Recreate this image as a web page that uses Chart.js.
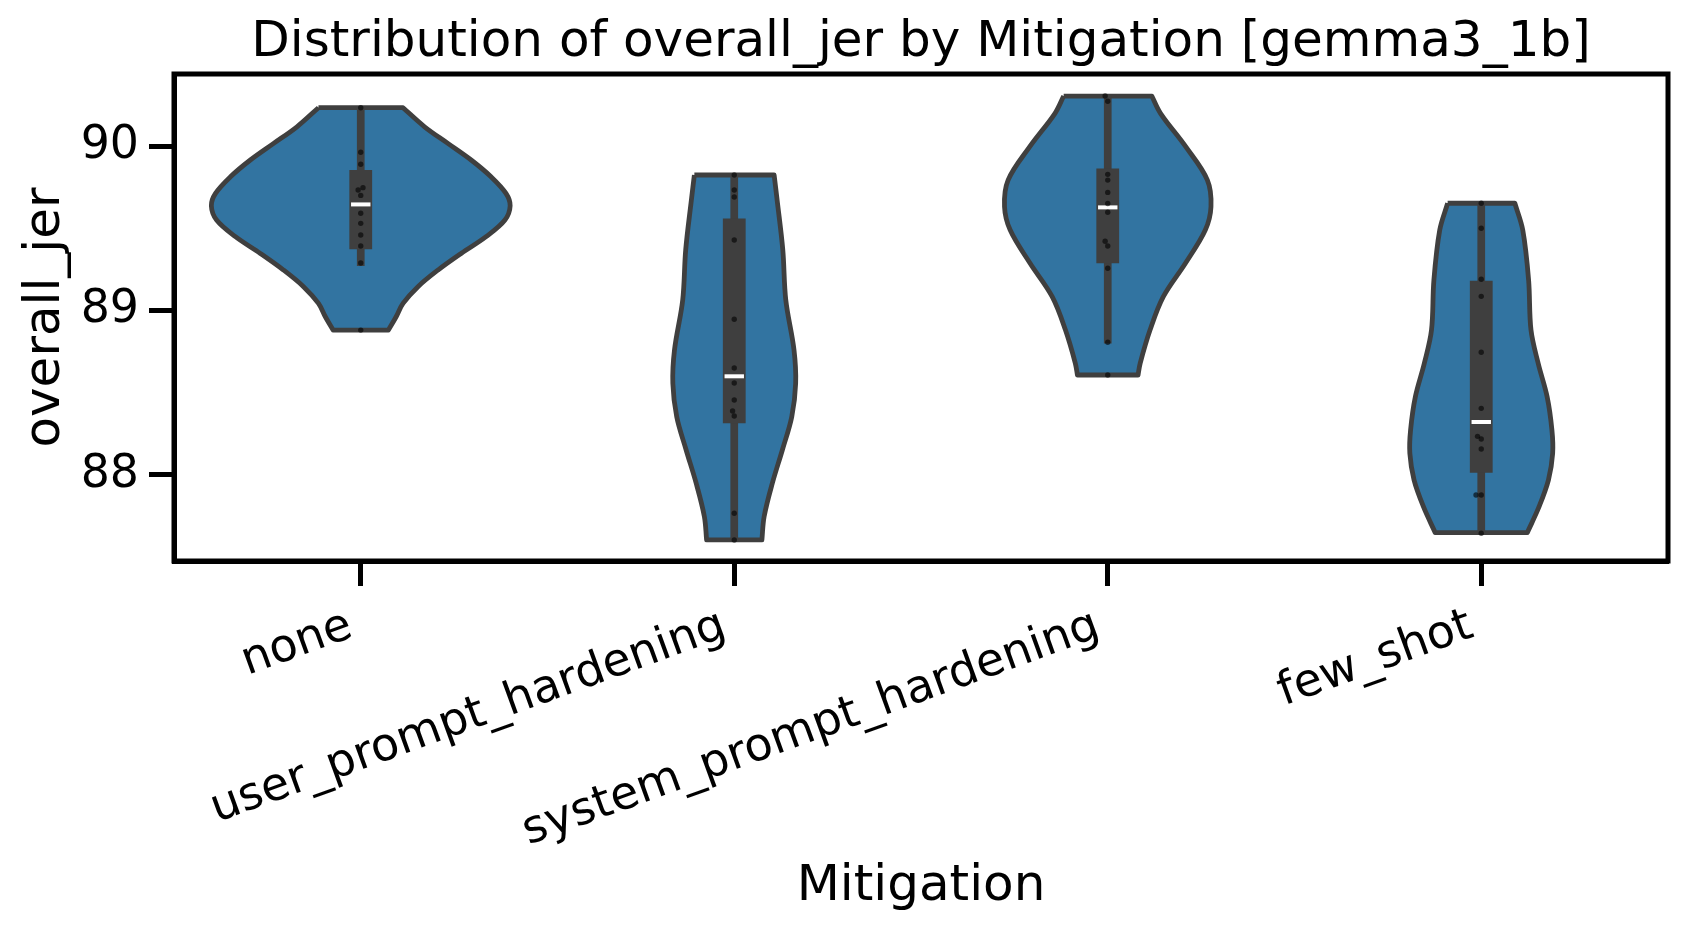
<!DOCTYPE html>
<html>
<head>
<meta charset="utf-8">
<script src="https://cdn.jsdelivr.net/npm/chart.js@4.4.1/dist/chart.umd.min.js"></script>
<style>
  html, body { margin: 0; padding: 0; background: #ffffff; }
  #wrap { width: 1687px; height: 928px; }
</style>
</head>
<body>
<div id="wrap"><canvas id="c" width="1687" height="928"></canvas></div>
<script>
// ---------------- DATA ----------------
const categories = ['none', 'user_prompt_hardening', 'system_prompt_hardening', 'few_shot'];
const yTicks = [88, 89, 90];

// observed values (strip points)
const pointsNone   = [90.233, 89.962, 89.889, 89.747, 89.733, 89.700, 89.591, 89.530, 89.459, 89.392, 89.289, 88.881];
const pointsUser   = [89.824, 89.733, 89.690, 89.429, 88.947, 88.650, 88.559, 88.456, 88.389, 88.359, 87.767, 87.605];
const pointsSystem = [90.304, 90.272, 89.828, 89.793, 89.718, 89.651, 89.597, 89.421, 89.392, 89.257, 88.807, 88.608];
const pointsFew    = [89.652, 89.500, 89.190, 89.086, 88.746, 88.405, 88.235, 88.219, 88.158, 87.878, 87.878, 87.646];
// strip jitter (category units)
const jitterNone   = [0, 0, 0, 0.006, -0.007, 0, 0, 0, 0, 0, 0, 0];
const jitterUser   = [0, 0, 0, 0, 0, 0, 0, 0, -0.0045, 0, 0, 0];
const jitterSystem = [-0.007, 0, 0, 0, 0, 0, 0, -0.007, 0, 0, 0, 0];
const jitterFew    = [0, 0, 0, 0, 0, 0, -0.01, 0, 0, -0.014, 0, 0];

// violin density outlines: levels (value) and relative density (1 = widest)
const levelsNone    = [90.233, 90.117, 90.016, 89.915, 89.813, 89.712, 89.637, 89.550, 89.449, 89.347, 89.246, 89.145, 89.043, 88.962, 88.881];
const densityNone   = [0.283, 0.427, 0.583, 0.739, 0.872, 0.972, 1.000, 0.965, 0.839, 0.672, 0.517, 0.383, 0.283, 0.237, 0.185];
const levelsUser    = [89.824, 89.672, 89.368, 89.064, 88.760, 88.557, 88.354, 88.152, 87.950, 87.747, 87.605];
const densityUser   = [0.267, 0.287, 0.325, 0.345, 0.400, 0.411, 0.385, 0.322, 0.255, 0.200, 0.185];
const levelsSystem  = [90.304, 90.199, 89.996, 89.793, 89.631, 89.489, 89.287, 89.084, 88.881, 88.679, 88.608];
const densitySystem = [0.295, 0.353, 0.522, 0.667, 0.691, 0.653, 0.520, 0.372, 0.283, 0.217, 0.203];
const levelsFew     = [89.652, 89.489, 89.185, 88.881, 88.679, 88.476, 88.274, 88.132, 87.970, 87.807, 87.649];
const densityFew    = [0.225, 0.278, 0.317, 0.333, 0.381, 0.441, 0.473, 0.478, 0.450, 0.387, 0.308];

// inner box statistics
const q1Values      = [89.372, 88.314, 89.287, 88.014];
const medianValues  = [89.645, 88.600, 89.627, 88.322];
const q3Values      = [89.854, 89.560, 89.864, 89.181];
const whiskerLow    = [89.270, 87.605, 88.800, 87.646];
const whiskerHigh   = [90.233, 89.824, 90.304, 89.652];

// ---------------- BUILD ----------------
const allPoints  = [pointsNone, pointsUser, pointsSystem, pointsFew];
const allJitter  = [jitterNone, jitterUser, jitterSystem, jitterFew];
const allLevels  = [levelsNone, levelsUser, levelsSystem, levelsFew];
const allDensity = [densityNone, densityUser, densitySystem, densityFew];

const VIOLIN_HALF = 0.4;    // half width of widest violin, category units
const BOX_HALF = 0.0305;
const MED_HALF = 0.026;
const EDGE = '#3f3f3f';
const FILL = '#3274a1';

function violinPath(i) {
  const lv = allLevels[i], d = allDensity[i];
  const left = lv.map((v, k) => ({ x: i - d[k] * VIOLIN_HALF, y: v }));
  const right = lv.map((v, k) => ({ x: i + d[k] * VIOLIN_HALF, y: v })).reverse();
  const pts = [];
  pts.push(left[0]);
  left.forEach(p => pts.push(p));
  pts.push(left[left.length - 1]);
  pts.push(right[0]);
  right.forEach(p => pts.push(p));
  pts.push(right[right.length - 1]);
  pts.push(left[0]);
  return pts;
}

const datasets = [];
categories.forEach((c, i) => {
  datasets.push({
    label: c + ' violin', data: violinPath(i), showLine: true, fill: 'shape',
    backgroundColor: FILL, borderColor: EDGE, borderWidth: 4.8, tension: 0.35,
    pointRadius: 0, pointHoverRadius: 0, order: 5, borderJoinStyle: 'round'
  });
  datasets.push({
    label: c + ' whisker', data: [{ x: i, y: whiskerLow[i] }, { x: i, y: whiskerHigh[i] }],
    showLine: true, borderColor: EDGE, borderWidth: 7.7, pointRadius: 0, order: 4, borderCapStyle: 'butt'
  });
  datasets.push({
    label: c + ' box',
    data: [
      { x: i - BOX_HALF, y: q1Values[i] }, { x: i + BOX_HALF, y: q1Values[i] },
      { x: i + BOX_HALF, y: q3Values[i] }, { x: i - BOX_HALF, y: q3Values[i] },
      { x: i - BOX_HALF, y: q1Values[i] }
    ],
    showLine: true, fill: 'shape', backgroundColor: EDGE, borderColor: EDGE, borderWidth: 0,
    pointRadius: 0, order: 3, tension: 0
  });
  datasets.push({
    label: c + ' median', data: [{ x: i - MED_HALF, y: medianValues[i] }, { x: i + MED_HALF, y: medianValues[i] }],
    showLine: true, borderColor: '#ffffff', borderWidth: 4, pointRadius: 0, order: 2, borderCapStyle: 'butt'
  });
});
const stripData = [];
allPoints.forEach((arr, i) => arr.forEach((v, k) => stripData.push({ x: i + allJitter[i][k], y: v })));
datasets.push({
  label: 'points', data: stripData, showLine: false,
  pointRadius: 2.7, pointBackgroundColor: 'rgba(0,0,0,0.6)', pointBorderWidth: 0, order: 1
});

const frame = {
  id: 'frame',
  afterDatasetsDraw(chart) {
    const a = chart.chartArea, ctx = chart.ctx;
    ctx.save();
    ctx.strokeStyle = '#000';
    ctx.lineWidth = 5;
    ctx.strokeRect(a.left, a.top, a.right - a.left, a.bottom - a.top);
    ctx.restore();
  }
};

const FONT = 'DejaVu Sans';
new Chart(document.getElementById('c'), {
  type: 'scatter',
  data: { datasets },
  plugins: [frame],
  options: {
    responsive: false,
    animation: false,
    devicePixelRatio: 1,
    layout: { padding: { left: 0, right: 19, top: 0, bottom: 0 } },
    plugins: {
      legend: { display: false },
      tooltip: { enabled: false },
      title: {
        display: true, fullSize: false, align: 'center',
        text: 'Distribution of overall_jer by Mitigation [gemma3_1b]',
        color: '#000', font: { family: FONT, size: 50, weight: 'normal' },
        padding: { top: 13, bottom: 1 }
      }
    },
    scales: {
      x: {
        type: 'linear', min: -0.5, max: 3.5,
        afterBuildTicks: s => { s.ticks = categories.map((c, i) => ({ value: i })); },
        afterFit: s => { s.height = 367; },
        ticks: {
          callback: v => categories[v], autoSkip: false, minRotation: 20, maxRotation: 20,
          color: '#000', font: { family: FONT, size: 45.8 }, padding: 13, labelOffset: -10
        },
        grid: { display: true, drawOnChartArea: false, drawTicks: true, tickLength: 25, tickWidth: 5, tickColor: '#000' },
        border: { display: true, color: '#000', width: 5 },
        title: { display: true, text: 'Mitigation', color: '#000', font: { family: FONT, size: 50 }, padding: { top: 0, bottom: 11 } }
      },
      y: {
        type: 'linear', min: 87.477, max: 90.438,
        afterBuildTicks: s => { s.ticks = yTicks.map(v => ({ value: v })); },
        afterFit: s => { s.width = 174; },
        ticks: { color: '#000', font: { family: FONT, size: 45.8 }, padding: 10, callback: v => String(v) },
        grid: { display: true, drawOnChartArea: false, drawTicks: true, tickLength: 25, tickWidth: 5, tickColor: '#000' },
        border: { display: true, color: '#000', width: 5 },
        title: { display: true, text: 'overall_jer', color: '#000', font: { family: FONT, size: 50 }, padding: { top: 16, bottom: 0 } }
      }
    }
  }
});
</script>
</body>
</html>
